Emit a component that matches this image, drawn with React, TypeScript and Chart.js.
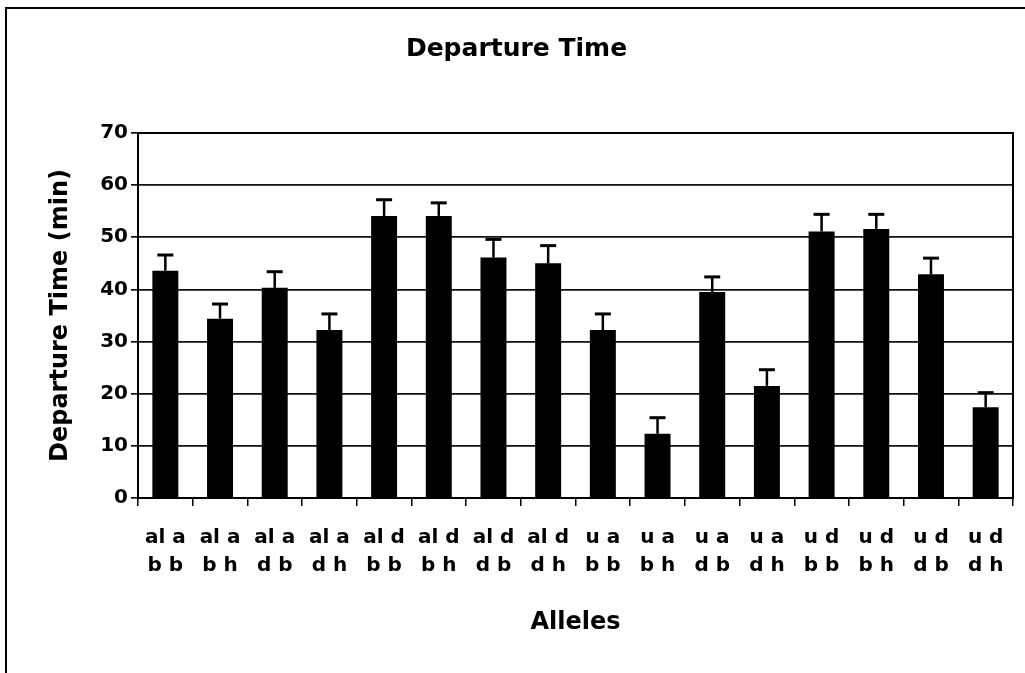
import React, { useEffect, useRef } from "react";
import { Chart, registerables } from "chart.js";

Chart.register(...registerables);

const alleleTop = ["al a", "al a", "al a", "al a", "al d", "al d", "al d", "al d", "u a", "u a", "u a", "u a", "u d", "u d", "u d", "u d"];
const alleleBottom = ["b b", "b h", "d b", "d h", "b b", "b h", "d b", "d h", "b b", "b h", "d b", "d h", "b b", "b h", "d b", "d h"];
const departureMeans = [43.6, 34.4, 40.3, 32.2, 54.1, 54.1, 46.1, 45.0, 32.2, 12.3, 39.5, 21.5, 51.1, 51.6, 42.9, 17.4];
const departureErrors = [3.0, 2.8, 3.1, 3.1, 3.1, 2.5, 3.5, 3.4, 3.1, 3.1, 2.9, 3.1, 3.3, 2.8, 3.1, 2.8];
const yTicks = [0, 10, 20, 30, 40, 50, 60, 70];

const FONT = "'DejaVu Sans', 'Liberation Sans', Arial, sans-serif";

// Upper error whiskers with caps, drawn above each bar.
const errorBarPlugin = {
  id: "errorBars",
  afterDatasetsDraw(chart: any) {
    const { ctx } = chart;
    const meta = chart.getDatasetMeta(0);
    const yScale = chart.scales.y;
    ctx.save();
    ctx.strokeStyle = "#000";
    meta.data.forEach((bar: any, i: number) => {
      const v = departureMeans[i];
      const e = departureErrors[i];
      const yBase = yScale.getPixelForValue(v);
      const yTop = yScale.getPixelForValue(v + e);
      ctx.lineWidth = 2.5;
      ctx.beginPath();
      ctx.moveTo(bar.x, yBase);
      ctx.lineTo(bar.x, yTop);
      ctx.stroke();
      ctx.lineWidth = 3;
      ctx.beginPath();
      ctx.moveTo(bar.x - 8, yTop);
      ctx.lineTo(bar.x + 8, yTop);
      ctx.stroke();
    });
    ctx.restore();
  },
};

// Box around the plotting area.
const plotFramePlugin = {
  id: "plotFrame",
  afterDraw(chart: any) {
    const { ctx, chartArea } = chart;
    ctx.save();
    ctx.strokeStyle = "#000";
    ctx.lineWidth = 2;
    ctx.strokeRect(chartArea.left, chartArea.top, chartArea.right - chartArea.left, chartArea.bottom - chartArea.top);
    ctx.restore();
  },
};

export default function App() {
  const canvasRef = useRef<HTMLCanvasElement | null>(null);

  useEffect(() => {
    if (!canvasRef.current) return;
    const labels = alleleTop.map((t, i) => [t, alleleBottom[i]]);
    const chart = new Chart(canvasRef.current, {
      type: "bar",
      data: {
        labels,
        datasets: [
          {
            label: "Departure Time",
            data: departureMeans,
            backgroundColor: "#000",
            borderWidth: 0,
            categoryPercentage: 1,
            barPercentage: 0.475,
          },
        ],
      },
      options: {
        animation: false,
        responsive: false,
        maintainAspectRatio: false,
        layout: { padding: { left: 20, right: 12, top: 0, bottom: 0 } },
        plugins: {
          legend: { display: false },
          tooltip: { enabled: false },
          title: {
            display: true,
            text: "Departure Time",
            color: "#000",
            font: { family: FONT, size: 25, weight: "bold", lineHeight: 1.2 },
            padding: { top: 34, bottom: 69 },
          },
        },
        scales: {
          x: {
            grid: {
              display: true,
              drawOnChartArea: false,
              drawTicks: true,
              tickLength: 8,
              color: "#000",
              lineWidth: 1.5,
            },
            border: { display: true, color: "#000", width: 2 },
            ticks: {
              color: "#000",
              font: { family: FONT, size: 20, weight: "bold", lineHeight: 1.4 },
              padding: 18,
              maxRotation: 0,
              autoSkip: false,
            },
            title: {
              display: true,
              text: "Alleles",
              color: "#000",
              font: { family: FONT, size: 24, weight: "bold", lineHeight: 1.2 },
              padding: { top: 0, bottom: 36 },
            },
            afterFit(scale: any) {
              scale.height = 175;
            },
          },
          y: {
            min: 0,
            max: 70,
            afterBuildTicks(scale: any) {
              scale.ticks = yTicks.map((v) => ({ value: v }));
            },
            grid: {
              color: "#111",
              lineWidth: 1.7,
              drawTicks: true,
              tickLength: 7,
            },
            border: { display: true, color: "#000", width: 2 },
            ticks: {
              color: "#000",
              font: { family: FONT, size: 20, weight: "bold" },
              padding: 3,
            },
            title: {
              display: true,
              text: "Departure Time (min)",
              color: "#000",
              font: { family: FONT, size: 24, weight: "bold", lineHeight: 1.2 },
              padding: { top: 26, bottom: 0 },
            },
            afterFit(scale: any) {
              scale.width = 118;
            },
          },
        },
      },
      plugins: [errorBarPlugin, plotFramePlugin],
    });
    return () => chart.destroy();
  }, []);

  return (
    <div style={{ position: "fixed", left: 0, top: 0, width: 1025, height: 673, background: "#fff", overflow: "hidden" }}>
      <div
        style={{
          position: "absolute",
          left: 5,
          top: 7,
          width: 1100,
          height: 700,
          borderLeft: "2px solid #000",
          borderTop: "2px solid #000",
        }}
      />
      <canvas ref={canvasRef} width={1025} height={673} style={{ position: "absolute", left: 0, top: 0 }} />
    </div>
  );
}
